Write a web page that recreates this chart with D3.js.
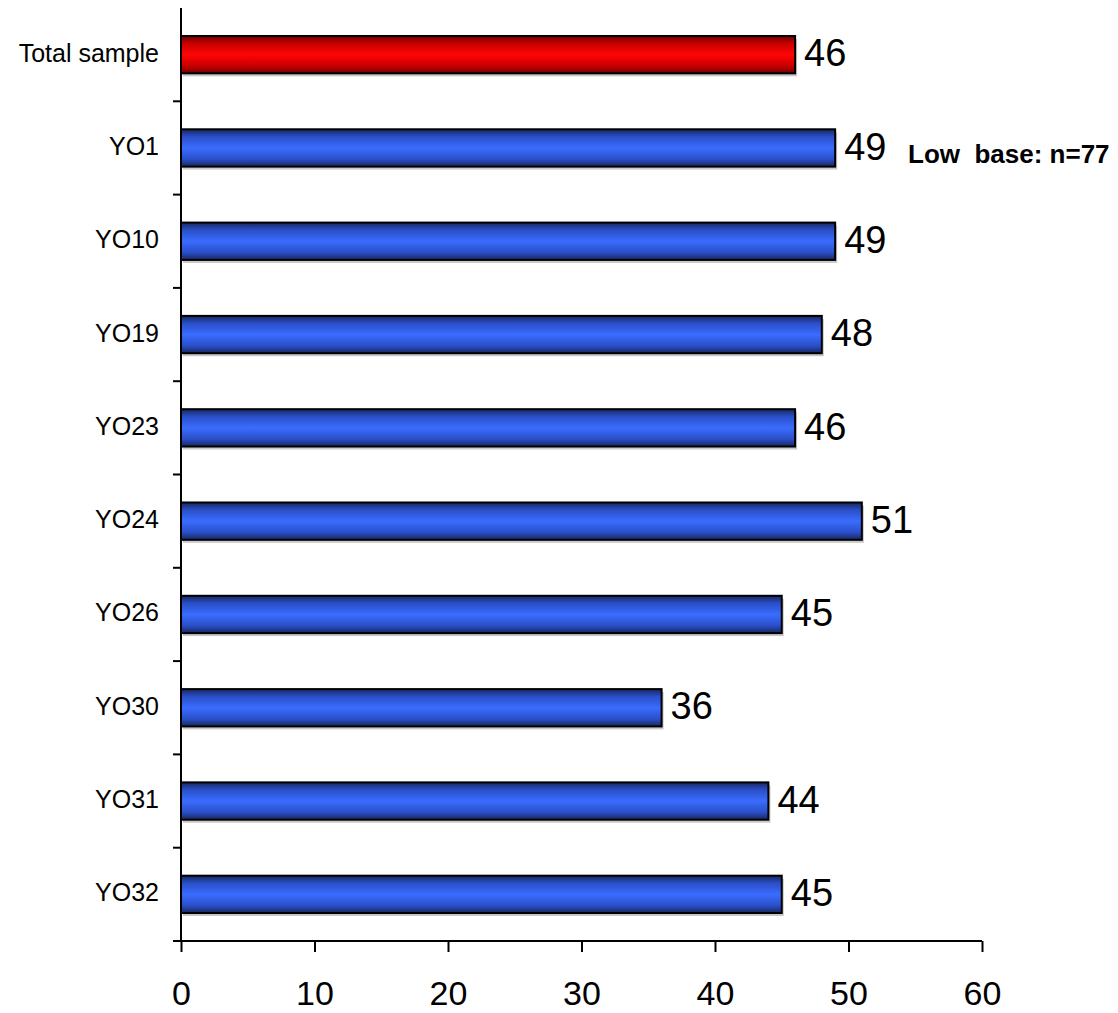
<!DOCTYPE html>
<html>
<head>
<meta charset="utf-8">
<script src="https://cdn.jsdelivr.net/npm/d3@7"></script>
<style>
  body { margin: 0; background: #fff; }
  svg { display: block; font-family: "Liberation Sans", Arial, sans-serif; }
</style>
</head>
<body>
<svg id="chart" width="1118" height="1013"></svg>
<script>
// Scores per group
const categories = ["Total sample", "YO1", "YO10", "YO19", "YO23", "YO24", "YO26", "YO30", "YO31", "YO32"];
const values = [46, 49, 49, 48, 46, 51, 45, 36, 44, 45];
const xTicks = [0, 10, 20, 30, 40, 50, 60];
const notes = [{ category: "YO1", text: "Low  base: n=77" }];

const svg = d3.select("#chart");
const margin = { left: 181, right: 136, top: 8, bottom: 72 };
const W = 1118, H = 1013;

const x = d3.scaleLinear().domain([0, 60]).range([margin.left, W - margin.right]);
const y = d3.scaleBand().domain(categories).range([margin.top, H - margin.bottom]).paddingInner(0.6).paddingOuter(0.3);
const yb = d3.scaleBand().domain(categories).range([margin.top, H - margin.bottom]);

// Cylinder-like vertical gradients
const defs = svg.append("defs");
function grad(id, dark, mid, light) {
  const g = defs.append("linearGradient").attr("id", id).attr("x1", 0).attr("y1", 0).attr("x2", 0).attr("y2", 1);
  [[0, dark], [0.2, mid], [0.5, light], [0.8, mid], [1, dark]].forEach(([o, c]) =>
    g.append("stop").attr("offset", o).attr("stop-color", c));
}
grad("gBlue", "#18275e", "#2a4fc8", "#3a6cff");
grad("gRed", "#6e0000", "#c80000", "#ff0505");

const bars = svg.append("g");
// soft shadow under each bar
bars.selectAll("rect.shadow").data(categories).join("rect")
  .attr("class", "shadow")
  .attr("x", x(0) + 2)
  .attr("y", d => y(d) + 3)
  .attr("width", (d, i) => x(values[i]) - x(0))
  .attr("height", y.bandwidth())
  .attr("fill", "#c8c8c8");

bars.selectAll("rect.bar").data(categories).join("rect")
  .attr("class", "bar")
  .attr("x", x(0))
  .attr("y", d => y(d))
  .attr("width", (d, i) => x(values[i]) - x(0))
  .attr("height", y.bandwidth())
  .attr("fill", (d, i) => i === 0 ? "url(#gRed)" : "url(#gBlue)")
  .attr("stroke", "#000")
  .attr("stroke-width", 2);

// value labels
svg.append("g").selectAll("text").data(categories).join("text")
  .attr("x", (d, i) => x(values[i]) + 9)
  .attr("y", d => y(d) + y.bandwidth() / 2 - 2)
  .attr("dy", "0.36em")
  .attr("font-size", 38)
  .attr("fill", "#000")
  .text((d, i) => values[i]);

// notes
svg.append("g").selectAll("text").data(notes).join("text")
  .attr("x", 908)
  .attr("y", d => y(d.category) + y.bandwidth() / 2 + 6)
  .attr("dy", "0.36em")
  .attr("font-size", 26)
  .attr("font-weight", "bold")
  .style("white-space", "pre")
  .text(d => d.text);

// y axis
const yAxis = svg.append("g");
yAxis.append("line").attr("x1", x(0)).attr("x2", x(0)).attr("y1", margin.top).attr("y2", H - margin.bottom)
  .attr("stroke", "#000").attr("stroke-width", 2);
yAxis.selectAll("line.tick").data(categories.slice(1)).join("line")
  .attr("class", "tick")
  .attr("x1", x(0) - 8).attr("x2", x(0))
  .attr("y1", d => yb(d)).attr("y2", d => yb(d))
  .attr("stroke", "#000").attr("stroke-width", 2);
yAxis.selectAll("text").data(categories).join("text")
  .attr("x", x(0) - 22)
  .attr("y", d => y(d) + y.bandwidth() / 2 - 2)
  .attr("dy", "0.36em")
  .attr("text-anchor", "end")
  .attr("font-size", 25)
  .text(d => d);

// x axis
const xAxis = svg.append("g").attr("transform", `translate(0,${H - margin.bottom})`)
  .call(d3.axisBottom(x).tickValues(xTicks).tickSize(11).tickPadding(29).tickSizeOuter(0));
xAxis.select(".domain").attr("d", `M${x(0) - 8},0H${x(60)}`).attr("stroke-width", 2);
xAxis.selectAll(".tick line").attr("stroke-width", 2);
xAxis.selectAll(".tick text").attr("font-size", 34).attr("font-family", "Liberation Sans, Arial, sans-serif").attr("fill", "#000");
</script>
</body>
</html>
